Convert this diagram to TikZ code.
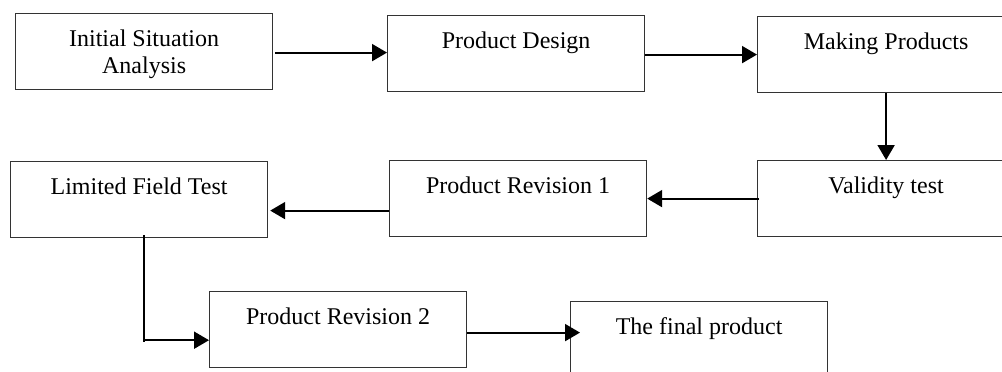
\documentclass[tikz,border=0pt]{standalone}
\usepackage{fontspec}
\setmainfont{Liberation Serif}
\usetikzlibrary{arrows.meta,calc}
\begin{document}
\begin{tikzpicture}[x=1pt,y=-1pt,
  box/.style={draw=black!80,line width=1.2pt,rectangle,minimum width=257pt,minimum height=76pt,inner sep=0pt,anchor=north west},
  lbl/.style={anchor=base,font=\fontsize{24}{27}\selectfont,inner sep=0pt,align=center},
  conn/.style={line width=2pt,-{Triangle[length=15pt,width=17pt]}}]
\useasboundingbox (0,0) rectangle (1002,372);
\clip (0,0) rectangle (1002,372);
\node[box] (a) at (15,13) {};
\node[box] (b) at (387,15) {};
\node[box] (c) at (757,16) {};
\node[box] (d) at (757,160) {};
\node[box] (e) at (389,160) {};
\node[box] (f) at (10,161) {};
\node[box] (g) at (209,291) {};
\node[box] (h) at (570,301) {};
\node[lbl] (ta) at ($(a.north)+(0,33)$) {Initial Situation};
\node[lbl] (ta2) at ($(a.north)+(0,60)$) {Analysis};
\node[lbl] (tb) at ($(b.north)+(0,33)$) {Product Design};
\node[lbl] (tc) at ($(c.north)+(0,33)$) {Making Products};
\node[lbl] (td) at ($(d.north)+(0,33)$) {Validity test};
\node[lbl] (te) at ($(e.north)+(0,33)$) {Product Revision 1};
\node[lbl] (tf) at ($(f.north)+(0,33)$) {Limited Field Test};
\node[lbl] (tg) at ($(g.north)+(0,33)$) {Product Revision 2};
\node[lbl] (th) at ($(h.north)+(0,33)$) {The final product};
\coordinate (ab) at ($(a.east)+(2,1)$);
\draw[conn] (ab) -- (b.west |- ab);
\coordinate (bc) at ($(b.east)+(0,1)$);
\draw[conn] (bc) -- (c.west |- bc);
\draw[conn] (c.south) -- (d.north);
\draw[conn] ($(d.west)+(2,0)$) -- (e.east);
\coordinate (ef) at ($(e.west)+(0,12)$);
\draw[conn] (ef) -- ($(f.east |- ef)+(2,0)$);
\coordinate (fs) at ($(f.south)+(5,-3)$);
\coordinate (fb) at ($(f.south)+(5,104)$);
\coordinate (fc) at ($(f.south)+(5,102)$);
\draw[line width=2pt] (fs) -- (fb);
\draw[conn] (fc) -- (g.west |- fc);
\coordinate (gh) at ($(g.east)+(0,3)$);
\draw[conn] (gh) -- ($(h.west |- gh)+(10,0)$);
\end{tikzpicture}
\end{document}
